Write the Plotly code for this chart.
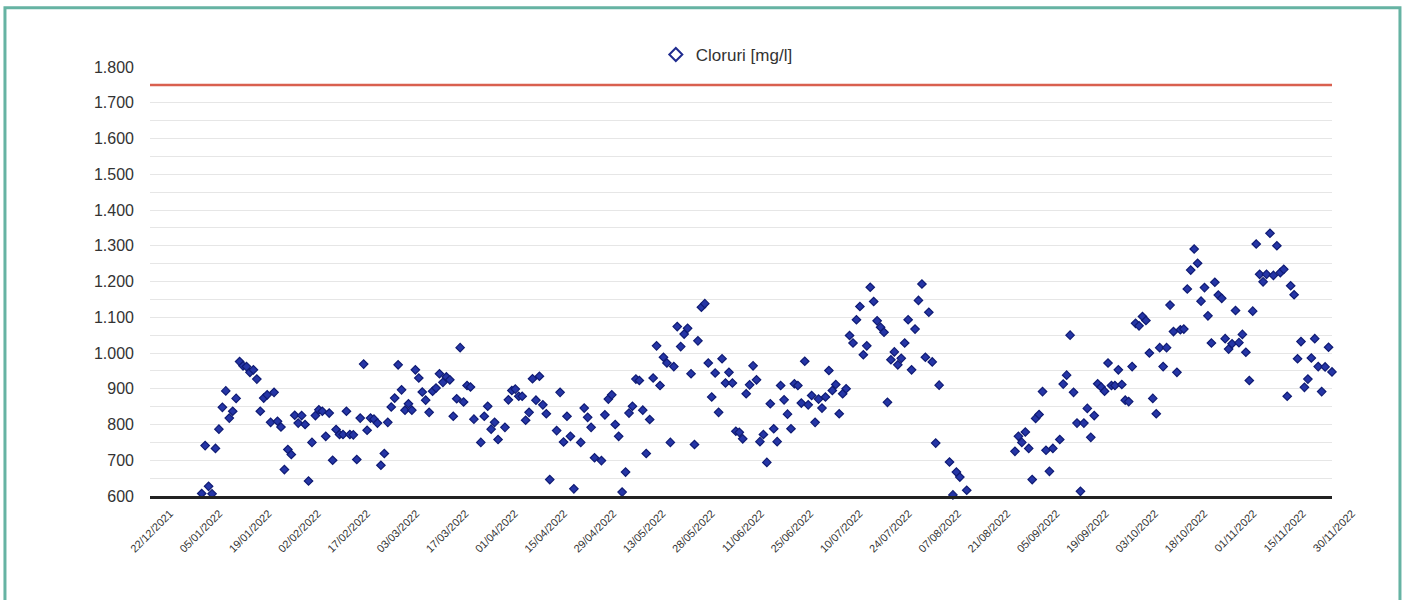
import plotly.graph_objects as go
import pandas as pd

series_name = "Cloruri [mg/l]"
limit_value = 1750
x_start = "2021-12-22"
x_end = "2022-11-30"
y_min, y_max = 600, 1800

x_tick_labels = ["22/12/2021", "05/01/2022", "19/01/2022", "02/02/2022", "17/02/2022",
                 "03/03/2022", "17/03/2022", "01/04/2022", "15/04/2022", "29/04/2022",
                 "13/05/2022", "28/05/2022", "11/06/2022", "25/06/2022", "10/07/2022",
                 "24/07/2022", "07/08/2022", "21/08/2022", "05/09/2022", "19/09/2022",
                 "03/10/2022", "18/10/2022", "01/11/2022", "15/11/2022", "30/11/2022"]

sample_dates = [
    # January
    "2022-01-06", "2022-01-07", "2022-01-08", "2022-01-09", "2022-01-10", "2022-01-11", "2022-01-12",
    "2022-01-13", "2022-01-14", "2022-01-15", "2022-01-16", "2022-01-17", "2022-01-18", "2022-01-19",
    "2022-01-20", "2022-01-21", "2022-01-22", "2022-01-23", "2022-01-24", "2022-01-25", "2022-01-26",
    "2022-01-27", "2022-01-28", "2022-01-29", "2022-01-30", "2022-01-31",
    # February
    "2022-02-01", "2022-02-02", "2022-02-03", "2022-02-04", "2022-02-05", "2022-02-06", "2022-02-07",
    "2022-02-08", "2022-02-09", "2022-02-10", "2022-02-11", "2022-02-12", "2022-02-13", "2022-02-14",
    "2022-02-15", "2022-02-16", "2022-02-17", "2022-02-18", "2022-02-19", "2022-02-20", "2022-02-21",
    "2022-02-22", "2022-02-23", "2022-02-24", "2022-02-25", "2022-02-26", "2022-02-27", "2022-02-28",
    # March
    "2022-03-01", "2022-03-02", "2022-03-03", "2022-03-04", "2022-03-05", "2022-03-06", "2022-03-07",
    "2022-03-08", "2022-03-09", "2022-03-10", "2022-03-11", "2022-03-12", "2022-03-13", "2022-03-14",
    "2022-03-15", "2022-03-16", "2022-03-17", "2022-03-18", "2022-03-19", "2022-03-20", "2022-03-21",
    "2022-03-22", "2022-03-23", "2022-03-24", "2022-03-25", "2022-03-26", "2022-03-28", "2022-03-29",
    "2022-03-30", "2022-03-31",
    # April
    "2022-04-01", "2022-04-02", "2022-04-04", "2022-04-05", "2022-04-06", "2022-04-07", "2022-04-08",
    "2022-04-09", "2022-04-10", "2022-04-11", "2022-04-12", "2022-04-13", "2022-04-14", "2022-04-15",
    "2022-04-16", "2022-04-17", "2022-04-19", "2022-04-20", "2022-04-21", "2022-04-22", "2022-04-23",
    "2022-04-24", "2022-04-26", "2022-04-27", "2022-04-28", "2022-04-29", "2022-04-30",
    # May
    "2022-05-02", "2022-05-03", "2022-05-04", "2022-05-05", "2022-05-06", "2022-05-07", "2022-05-08",
    "2022-05-09", "2022-05-10", "2022-05-11", "2022-05-12", "2022-05-13", "2022-05-14", "2022-05-15",
    "2022-05-16", "2022-05-17", "2022-05-18", "2022-05-19", "2022-05-20", "2022-05-21", "2022-05-22",
    "2022-05-23", "2022-05-24", "2022-05-25", "2022-05-26", "2022-05-27", "2022-05-28", "2022-05-29",
    "2022-05-30", "2022-05-31",
    # June
    "2022-06-01", "2022-06-02", "2022-06-03", "2022-06-04", "2022-06-05", "2022-06-06", "2022-06-07",
    "2022-06-08", "2022-06-09", "2022-06-10", "2022-06-11", "2022-06-12", "2022-06-13", "2022-06-14",
    "2022-06-15", "2022-06-16", "2022-06-17", "2022-06-18", "2022-06-19", "2022-06-20", "2022-06-21",
    "2022-06-22", "2022-06-23", "2022-06-24", "2022-06-25", "2022-06-26", "2022-06-27", "2022-06-28",
    "2022-06-29", "2022-06-30",
    # July
    "2022-07-01", "2022-07-02", "2022-07-03", "2022-07-04", "2022-07-05", "2022-07-06", "2022-07-07",
    "2022-07-08", "2022-07-09", "2022-07-10", "2022-07-11", "2022-07-12", "2022-07-13", "2022-07-14",
    "2022-07-15", "2022-07-16", "2022-07-17", "2022-07-18", "2022-07-19", "2022-07-20", "2022-07-21",
    "2022-07-22", "2022-07-23", "2022-07-24", "2022-07-25", "2022-07-26", "2022-07-27", "2022-07-28",
    "2022-07-29", "2022-07-30", "2022-07-31",
    # August
    "2022-08-01", "2022-08-02", "2022-08-03", "2022-08-04", "2022-08-05", "2022-08-06", "2022-08-07",
    "2022-08-08", "2022-08-11", "2022-08-12", "2022-08-13", "2022-08-14", "2022-08-16", "2022-08-30",
    "2022-08-31",
    # September
    "2022-09-01", "2022-09-02", "2022-09-03", "2022-09-04", "2022-09-05", "2022-09-06", "2022-09-07",
    "2022-09-08", "2022-09-09", "2022-09-10", "2022-09-12", "2022-09-13", "2022-09-14", "2022-09-15",
    "2022-09-16", "2022-09-17", "2022-09-18", "2022-09-19", "2022-09-20", "2022-09-21", "2022-09-22",
    "2022-09-23", "2022-09-24", "2022-09-25", "2022-09-26", "2022-09-27", "2022-09-28", "2022-09-29",
    "2022-09-30",
    # October
    "2022-10-01", "2022-10-02", "2022-10-03", "2022-10-04", "2022-10-05", "2022-10-06", "2022-10-07",
    "2022-10-08", "2022-10-09", "2022-10-10", "2022-10-11", "2022-10-12", "2022-10-13", "2022-10-14",
    "2022-10-15", "2022-10-16", "2022-10-17", "2022-10-18", "2022-10-19", "2022-10-20", "2022-10-21",
    "2022-10-22", "2022-10-23", "2022-10-24", "2022-10-25", "2022-10-26", "2022-10-27", "2022-10-28",
    "2022-10-29", "2022-10-30", "2022-10-31",
    # November
    "2022-11-01", "2022-11-02", "2022-11-03", "2022-11-04", "2022-11-05", "2022-11-06", "2022-11-07",
    "2022-11-08", "2022-11-09", "2022-11-10", "2022-11-11", "2022-11-12", "2022-11-13", "2022-11-14",
    "2022-11-15", "2022-11-16", "2022-11-17", "2022-11-18", "2022-11-19", "2022-11-20", "2022-11-21",
    "2022-11-22", "2022-11-23", "2022-11-24", "2022-11-25", "2022-11-26", "2022-11-27", "2022-11-28",
    "2022-11-29", "2022-11-30",
]

cloruri_mg_l = [
    # January
    607, 741, 627, 606, 733, 787, 848, 894, 818, 837, 873, 976, 964, 962, 946, 953, 927, 837, 874, 883,
    806, 890, 809, 793, 674, 730,
    # February
    716, 826, 804, 825, 800, 642, 750, 825, 841, 837, 767, 832, 700, 786, 772, 772, 837, 772, 771, 702,
    818, 969, 784, 818, 815, 804, 686, 719,
    # March
    806, 849, 874, 967, 897, 840, 858, 840, 953, 930, 891, 868, 834, 893, 902, 942, 918, 933, 925, 823,
    872, 1015, 863, 909, 905, 815, 750, 823, 851, 787,
    # April
    806, 758, 792, 869, 895, 899, 879, 879, 812, 834, 928, 868, 935, 855, 830, 646, 783, 890, 751, 823,
    767, 620, 750, 846, 820, 792, 707,
    # May
    699, 827, 871, 883, 800, 767, 611, 667, 832, 851, 927, 923, 840, 719, 814, 930, 1020, 909, 988, 972,
    750, 962, 1074, 1018, 1053, 1069, 942, 744, 1034, 1128,
    # June
    1138, 972, 877, 944, 834, 984, 916, 946, 916, 781, 778, 760, 886, 911, 964, 925, 752, 772, 694, 858,
    788, 752, 909, 869, 829, 788, 914, 909, 860, 977,
    # July
    855, 881, 806, 871, 846, 877, 951, 895, 912, 830, 886, 900, 1049, 1028, 1093, 1130, 995, 1020, 1184,
    1144, 1090, 1072, 1058, 862, 981, 1003, 967, 985, 1028, 1093, 953,
    # August
    1067, 1147, 1193, 988, 1114, 975, 748, 910, 695, 603, 667, 653, 616, 725, 767,
    # September
    750, 779, 733, 646, 817, 828, 892, 728, 669, 733, 758, 913, 938, 1050, 890, 804, 613, 804, 845, 764,
    825, 914, 905, 893, 972, 909, 909, 953, 912,
    # October
    868, 864, 962, 1083, 1076, 1102, 1091, 1000, 873, 830, 1015, 962, 1015, 1134, 1060, 946, 1065, 1067,
    1179, 1232, 1291, 1251, 1145, 1183, 1104, 1028, 1198, 1162, 1153, 1040, 1011,
    # November
    1026, 1119, 1029, 1052, 1002, 923, 1117, 1305, 1220, 1199, 1220, 1335, 1217, 1300, 1225, 1234, 879,
    1188, 1163, 984, 1032, 904, 927, 986, 1040, 962, 892, 961, 1016, 947,
]

tick_positions = pd.date_range(x_start, x_end, periods=len(x_tick_labels))

fig = go.Figure()
fig.add_trace(go.Scatter(
    x=sample_dates, y=cloruri_mg_l, mode="markers", name=series_name, showlegend=False,
    cliponaxis=False,
    marker=dict(symbol="diamond", size=6.5, color="#2535a6", line=dict(color="#0f1b74", width=1.2)),
))
# legend entry (open diamond as in the original legend)
fig.add_trace(go.Scatter(
    x=[None], y=[None], mode="markers", name=series_name,
    marker=dict(symbol="diamond-open", size=10, color="#1f2b8f", line=dict(width=2)),
))

fig.add_shape(type="line", xref="paper", yref="y", x0=0, x1=1, y0=limit_value, y1=limit_value,
              line=dict(color="#d9604f", width=2.5))
fig.add_shape(type="rect", xref="paper", yref="paper", x0=-0.1227, x1=1.0575, y0=-0.28, y1=1.138,
              line=dict(color="#66b3a3", width=3), fillcolor="rgba(0,0,0,0)", layer="above")

fig.update_layout(
    width=1403, height=600,
    margin=dict(l=150, r=71, t=67, b=104),
    paper_bgcolor="white", plot_bgcolor="white",
    separators=",.",
    font=dict(family="Liberation Sans, Arial, sans-serif", color="#333333"),
    legend=dict(orientation="h", x=0.488, xanchor="center", y=1.028, yanchor="middle",
                font=dict(size=17, color="#333333"), bgcolor="rgba(0,0,0,0)", itemwidth=30),
    xaxis=dict(type="date", range=[x_start, x_end], tickmode="array", tickvals=tick_positions,
               ticktext=x_tick_labels, tickangle=-45, tickfont=dict(size=11, color="#333333"),
               showgrid=False, showline=True, linecolor="#222222", linewidth=2.5, ticks="",
               ticklabelshift=20, ticklabelstandoff=4, zeroline=False),
    yaxis=dict(range=[y_min, y_max], tick0=600, dtick=100, tickformat=",d", showgrid=True,
               gridcolor="#e6e6e6", gridwidth=1,
               minor=dict(dtick=50, showgrid=True, gridcolor="#e6e6e6", gridwidth=1),
               showline=False, zeroline=False, tickfont=dict(size=16, color="#333333"),
               ticklabelstandoff=15),
)

fig.write_html("out.html", config={"displayModeBar": False},
               post_script="document.body.style.margin='0';document.body.style.overflow='hidden';")
